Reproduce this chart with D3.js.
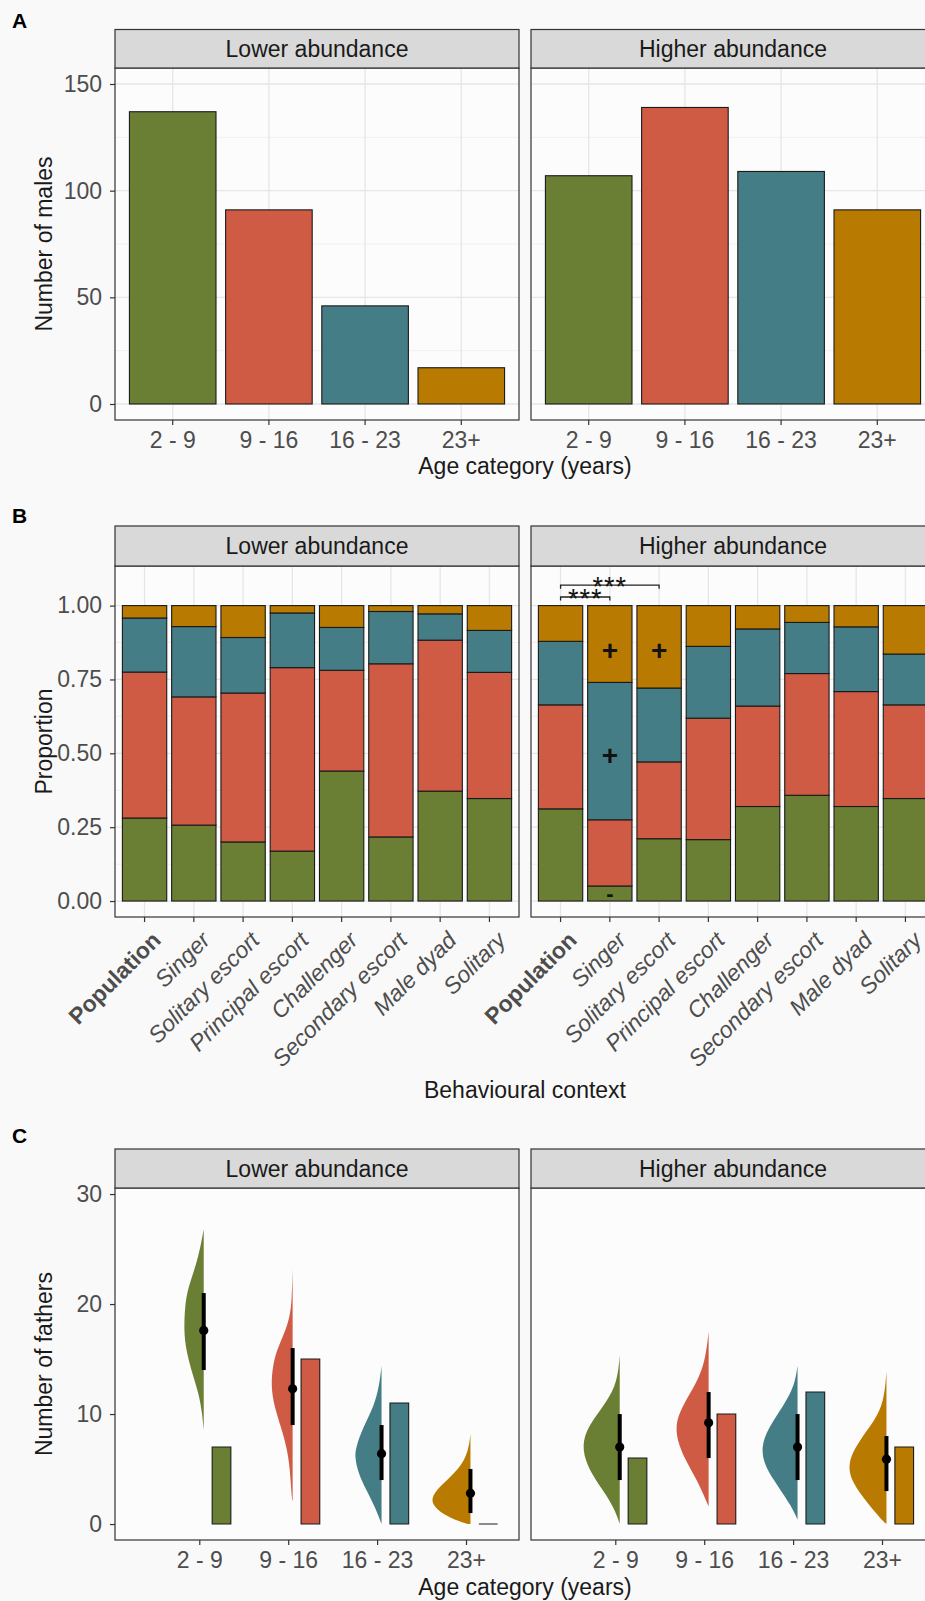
<!DOCTYPE html>
<html>
<head>
<meta charset="utf-8">
<script src="https://cdn.jsdelivr.net/npm/d3@7"></script>
<style>
	body { margin: 0; background: #f9f9f9; }
	svg { display: block; }
</style>
</head>
<body>
<div id="figure"></div>
<script>
// ---- data ----
const ageClasses = ['2 - 9', '9 - 16', '16 - 23', '23+']
const facets = ['Lower abundance', 'Higher abundance']
const ageColors = ['#6b7f34', '#d05b45', '#457d86', '#b87a00']

// A: number of males per age class
const malesLower = [137, 91, 46, 17]
const malesHigher = [107, 139, 109, 91]
const malesTicks = [0, 50, 100, 150]

// B: age composition of each behavioural context (rows = age classes)
const contexts = ['Population', 'Singer', 'Solitary escort', 'Principal escort', 'Challenger',
	'Secondary escort', 'Male dyad', 'Solitary']
const propLower = [
	[0.281, 0.257, 0.200, 0.169, 0.440, 0.217, 0.372, 0.347],
	[0.494, 0.434, 0.504, 0.621, 0.341, 0.586, 0.511, 0.427],
	[0.183, 0.238, 0.188, 0.185, 0.145, 0.177, 0.089, 0.142],
	[0.042, 0.071, 0.108, 0.025, 0.074, 0.020, 0.028, 0.084]
]
const propHigher = [
	[0.312, 0.051, 0.211, 0.208, 0.320, 0.358, 0.320, 0.347],
	[0.352, 0.224, 0.260, 0.411, 0.340, 0.412, 0.389, 0.317],
	[0.215, 0.465, 0.250, 0.243, 0.261, 0.173, 0.219, 0.172],
	[0.121, 0.260, 0.279, 0.138, 0.079, 0.057, 0.072, 0.164]
]
const propTicks = [0, 0.25, 0.5, 0.75, 1]
// over/under-representation marks in the higher abundance panel
const markContexts = ['Singer', 'Singer', 'Solitary escort', 'Singer']
const markValues = [0.848, 0.494, 0.848, 0.027]
const markLabels = ['+', '+', '+', '-']
// significance brackets
const bracketFrom = ['Population', 'Population']
const bracketTo = ['Singer', 'Solitary escort']
const bracketValues = [1.029, 1.069]
const bracketLabels = ['***', '***']

// C: number of fathers (observed bars) and model estimates
const fathersLower = [7, 15, 11, 0]
const fathersHigher = [6, 10, 12, 7]
const estLower = [17.6, 12.3, 6.4, 2.8]
const estLowLower = [14, 9, 4, 1]
const estHighLower = [21, 16, 9, 5]
const estHigher = [7.0, 9.2, 7.0, 5.9]
const estLowHigher = [4, 6, 4, 3]
const estHighHigher = [10, 12, 10, 8]
const fathersTicks = [0, 10, 20, 30]
// posterior densities: [number of fathers, relative density]
const densLower = [
	[[26.8, 0], [24.3, 0.125], [21.9, 0.35], [20.4, 0.46], [17.6, 0.5], [15.8, 0.44], [13.7, 0.29],
		[11.9, 0.125], [10.1, 0.04], [8.5, 0]],
	[[23.2, 0], [20.4, 0.02], [18.8, 0.07], [17.3, 0.21], [15.8, 0.4], [14.3, 0.5], [12.5, 0.54],
		[10.7, 0.46], [8.8, 0.29], [7.0, 0.15], [5.2, 0.07], [2.2, 0.02], [2.1, 0]],
	[[14.4, 0], [12.5, 0.06], [10.7, 0.19], [8.8, 0.46], [7.0, 0.64], [6.1, 0.67], [4.6, 0.58],
		[3.1, 0.38], [1.6, 0.17], [0.4, 0.04], [0, 0]],
	[[8.2, 0], [6.4, 0.06], [4.9, 0.31], [3.7, 0.68], [2.5, 0.99], [1.6, 0.93], [0.7, 0.6],
		[0.1, 0.18], [0, 0.05]]
]
const densHigher = [
	[[15.35, 0], [12.9, 0.06], [11.1, 0.33], [9.3, 0.71], [7.6, 0.94], [5.8, 0.875], [4.0, 0.61],
		[2.2, 0.25], [0.7, 0.06], [0, 0]],
	[[17.5, 0], [14.9, 0.08], [12.9, 0.29], [11.1, 0.6], [9.3, 0.83], [7.6, 0.79], [5.8, 0.58],
		[4.0, 0.29], [2.2, 0.07], [1.6, 0]],
	[[14.4, 0], [12.5, 0.08], [10.7, 0.36], [8.8, 0.72], [7.0, 0.92], [5.2, 0.82], [3.4, 0.48],
		[1.6, 0.15], [0.4, 0]],
	[[13.9, 0], [11.1, 0.06], [9.3, 0.31], [7.6, 0.68], [5.5, 0.99], [3.7, 0.85], [1.9, 0.475],
		[0.4, 0.125], [0, 0]]
]

// ---- layout ----
const panelLeft = [115, 531]
const panelWidth = 404
const fontSize = 23
const inkDark = '#1a1a1a'
const tickGrey = '#4d4d4d'

const svg = d3.select('#figure')
	.append('svg')
	.attr('width', 925)
	.attr('height', 1601)
	.style('font-family', '"Liberation Sans", Arial, Helvetica, sans-serif')

svg.append('rect')
	.attr('width', 925)
	.attr('height', 1601)
	.attr('fill', '#f9f9f9')

function panel(i, top, bottom) {
	const g = svg.append('g').attr('transform', `translate(${panelLeft[i]},0)`)
	g.append('rect')
		.attr('y', top)
		.attr('width', panelWidth)
		.attr('height', bottom - top)
		.attr('fill', '#fcfcfc')
	return g
}

function finishPanel(g, i, stripTop, top, bottom) {
	g.append('rect')
		.attr('y', top)
		.attr('width', panelWidth)
		.attr('height', bottom - top)
		.attr('fill', 'none')
		.attr('stroke', '#333')
		.attr('stroke-width', 1.2)
	g.append('rect')
		.attr('y', stripTop)
		.attr('width', panelWidth)
		.attr('height', top - stripTop)
		.attr('fill', '#d9d9d9')
		.attr('stroke', '#333')
		.attr('stroke-width', 1.2)
	g.append('text')
		.attr('x', panelWidth / 2)
		.attr('y', (stripTop + top) / 2)
		.attr('dy', '0.35em')
		.attr('text-anchor', 'middle')
		.attr('font-size', fontSize)
		.attr('fill', inkDark)
		.text(facets[i])
}

function gridY(g, y, major, minor) {
	g.append('g').selectAll('line')
		.data(minor)
		.enter()
		.append('line')
		.attr('x1', 0)
		.attr('x2', panelWidth)
		.attr('y1', d => y(d))
		.attr('y2', d => y(d))
		.attr('stroke', '#ebebeb')
		.attr('stroke-width', 0.7)
	g.append('g').selectAll('line')
		.data(major)
		.enter()
		.append('line')
		.attr('x1', 0)
		.attr('x2', panelWidth)
		.attr('y1', d => y(d))
		.attr('y2', d => y(d))
		.attr('stroke', '#e6e6e6')
		.attr('stroke-width', 1.3)
}

function gridX(g, xs, top, bottom) {
	g.append('g').selectAll('line')
		.data(xs)
		.enter()
		.append('line')
		.attr('x1', d => d)
		.attr('x2', d => d)
		.attr('y1', top)
		.attr('y2', bottom)
		.attr('stroke', '#e6e6e6')
		.attr('stroke-width', 1.3)
}

function styleAxis(a) {
	a.attr('font-family', null).attr('font-size', null)
	a.select('.domain').remove()
	a.selectAll('line').attr('stroke', '#333').attr('stroke-width', 1.2)
	a.selectAll('text').attr('fill', tickGrey).style('font-size', fontSize + 'px')
}

function yAxis(y, ticks, fmt) {
	svg.append('g')
		.attr('transform', `translate(${panelLeft[0]},0)`)
		.call(d3.axisLeft(y).tickValues(ticks).tickFormat(fmt).tickSize(5).tickPadding(8))
		.call(styleAxis)
}

function xAxis(g, scale, bottom, fmt) {
	const axis = d3.axisBottom(scale).tickSize(5).tickPadding(7)
	if (fmt) axis.tickValues([1, 2, 3, 4]).tickFormat(fmt)
	return g.append('g')
		.attr('transform', `translate(0,${bottom})`)
		.call(axis)
		.call(styleAxis)
}

function axisTitleY(text, cy) {
	svg.append('text')
		.attr('transform', `translate(44,${cy}) rotate(-90)`)
		.attr('dy', '0.35em')
		.attr('text-anchor', 'middle')
		.attr('font-size', fontSize)
		.attr('fill', inkDark)
		.text(text)
}

function axisTitleX(text, baseline) {
	svg.append('text')
		.attr('x', (panelLeft[0] + panelLeft[1] + panelWidth) / 2)
		.attr('y', baseline)
		.attr('text-anchor', 'middle')
		.attr('font-size', fontSize)
		.attr('fill', inkDark)
		.text(text)
}

function figLabel(text, baseline) {
	svg.append('text')
		.attr('x', 12)
		.attr('y', baseline)
		.attr('font-size', 21)
		.attr('font-weight', 'bold')
		.attr('fill', '#000')
		.text(text)
}

// ---- A: number of males ----
const aStrip = 29.5, aTop = 68, aBottom = 420
const yA = d3.scaleLinear().domain([-7.5, 157.5]).range([aBottom, aTop])
const xA = d3.scaleBand().domain(ageClasses).range([0, panelWidth]).paddingInner(0.1).paddingOuter(0.15)

;[malesLower, malesHigher].forEach(function(vals, i) {
	const g = panel(i, aTop, aBottom)
	gridY(g, yA, malesTicks, [25, 75, 125])
	gridX(g, ageClasses.map(d => xA(d) + xA.bandwidth() / 2), aTop, aBottom)
	g.append('g').selectAll('rect')
		.data(vals)
		.enter()
		.append('rect')
		.attr('x', (d, k) => xA(ageClasses[k]))
		.attr('y', d => yA(d))
		.attr('width', xA.bandwidth())
		.attr('height', d => yA(0) - yA(d))
		.attr('fill', (d, k) => ageColors[k])
		.attr('stroke', inkDark)
		.attr('stroke-width', 1.1)
	xAxis(g, xA, aBottom)
	finishPanel(g, i, aStrip, aTop, aBottom)
})
yAxis(yA, malesTicks, d3.format('d'))
axisTitleY('Number of males', (aTop + aBottom) / 2)
axisTitleX('Age category (years)', 474)
figLabel('A', 28)

// ---- B: proportions per behavioural context ----
const bStrip = 526, bTop = 566, bBottom = 917
const yB = d3.scaleLinear().domain([-0.054, 1.134]).range([bBottom, bTop])
const xB = d3.scaleBand().domain(contexts).range([0, panelWidth]).paddingInner(0.1).paddingOuter(0.15)
const xBc = c => xB(c) + xB.bandwidth() / 2

;[propLower, propHigher].forEach(function(prop, i) {
	const g = panel(i, bTop, bBottom)
	gridY(g, yB, propTicks, [0.125, 0.375, 0.625, 0.875])
	gridX(g, contexts.map(xBc), bTop, bBottom)

	const rows = contexts.map(function(c, j) {
		const row = { context: c }
		ageClasses.forEach((a, k) => { row[a] = prop[k][j] })
		return row
	})
	const series = d3.stack().keys(ageClasses)(rows)
	g.append('g').selectAll('g')
		.data(series)
		.enter()
		.append('g')
		.attr('fill', (d, k) => ageColors[k])
		.selectAll('rect')
		.data(d => d)
		.enter()
		.append('rect')
		.attr('x', d => xB(d.data.context))
		.attr('y', d => yB(d[1]))
		.attr('width', xB.bandwidth())
		.attr('height', d => yB(d[0]) - yB(d[1]))
		.attr('stroke', inkDark)
		.attr('stroke-width', 1.1)

	if (i === 1) {
		g.append('g').selectAll('text')
			.data(markLabels)
			.enter()
			.append('text')
			.attr('x', (d, k) => xBc(markContexts[k]))
			.attr('y', (d, k) => yB(markValues[k]))
			.attr('dy', '0.35em')
			.attr('text-anchor', 'middle')
			.attr('font-size', d => d === '+' ? 28 : 22)
			.attr('font-weight', 'bold')
			.attr('fill', '#111')
			.text(d => d)

		const br = g.append('g')
		bracketLabels.forEach(function(lab, k) {
			const x0 = xBc(bracketFrom[k]), x1 = xBc(bracketTo[k]), yb = yB(bracketValues[k])
			br.append('path')
				.attr('d', `M${x0},${yb + 3.5}V${yb}H${x1}V${yb + 3.5}`)
				.attr('fill', 'none')
				.attr('stroke', '#222')
				.attr('stroke-width', 1.3)
			br.append('text')
				.attr('x', (x0 + x1) / 2)
				.attr('y', yb + 11)
				.attr('text-anchor', 'middle')
				.attr('font-size', 27)
				.attr('letter-spacing', 1)
				.attr('fill', '#111')
				.text(lab)
		})
	}

	xAxis(g, xB, bBottom)
		.selectAll('.tick text')
		.attr('x', 0)
		.attr('y', 0)
		.attr('dy', '0.9em')
		.attr('transform', 'translate(3,10) rotate(-45)')
		.attr('text-anchor', 'end')
		.style('font-style', d => d === 'Population' ? 'normal' : 'italic')
		.style('font-weight', d => d === 'Population' ? 'bold' : 'normal')
	finishPanel(g, i, bStrip, bTop, bBottom)
})
yAxis(yB, propTicks, d3.format('.2f'))
axisTitleY('Proportion', (bTop + bBottom) / 2)
axisTitleX('Behavioural context', 1098)
figLabel('B', 523)

// ---- C: number of fathers ----
const cStrip = 1149, cTop = 1188, cBottom = 1540
const yC = d3.scaleLinear().domain([-1.45, 30.55]).range([cBottom, cTop])
const xC = d3.scaleLinear().domain([0.052, 4.596]).range([0, panelWidth])
const nudge = 0.05
const barCentre = 0.25, barWidth = 0.21
const densWidth = d3.scaleLinear().domain([0, 1]).range([0, 0.45])

const cSets = [
	[fathersLower, estLower, estLowLower, estHighLower, densLower],
	[fathersHigher, estHigher, estLowHigher, estHighHigher, densHigher]
]
cSets.forEach(function(set, i) {
	const [bars, est, lo, hi, dens] = set
	const g = panel(i, cTop, cBottom)

	dens.forEach(function(d, k) {
		const cx = k + 1 + nudge
		const area = d3.area()
			.curve(d3.curveBasis)
			.y(p => yC(p[0]))
			.x0(p => xC(cx - densWidth(p[1])))
			.x1(xC(cx))
		g.append('path')
			.attr('d', area(d))
			.attr('fill', ageColors[k])
	})

	g.append('g').selectAll('path')
		.data(bars)
		.enter()
		.append('path')
		.attr('d', function(v, k) {
			const x0 = xC(k + 1 + barCentre - barWidth / 2), x1 = xC(k + 1 + barCentre + barWidth / 2)
			return `M${x0},${yC(0)}V${yC(v)}H${x1}V${yC(0)}Z`
		})
		.attr('fill', (v, k) => ageColors[k])
		.attr('stroke', inkDark)
		.attr('stroke-width', 1.1)

	g.append('g').selectAll('line')
		.data(est)
		.enter()
		.append('line')
		.attr('x1', (v, k) => xC(k + 1 + nudge))
		.attr('x2', (v, k) => xC(k + 1 + nudge))
		.attr('y1', (v, k) => yC(lo[k]))
		.attr('y2', (v, k) => yC(hi[k]))
		.attr('stroke', '#000')
		.attr('stroke-width', 4)

	g.append('g').selectAll('circle')
		.data(est)
		.enter()
		.append('circle')
		.attr('cx', (v, k) => xC(k + 1 + nudge))
		.attr('cy', v => yC(v))
		.attr('r', 4.6)
		.attr('fill', '#000')

	xAxis(g, xC, cBottom, d => ageClasses[d - 1])
	finishPanel(g, i, cStrip, cTop, cBottom)
})
yAxis(yC, fathersTicks, d3.format('d'))
axisTitleY('Number of fathers', (cTop + cBottom) / 2)
axisTitleX('Age category (years)', 1595)
figLabel('C', 1143)
</script>
</body>
</html>
